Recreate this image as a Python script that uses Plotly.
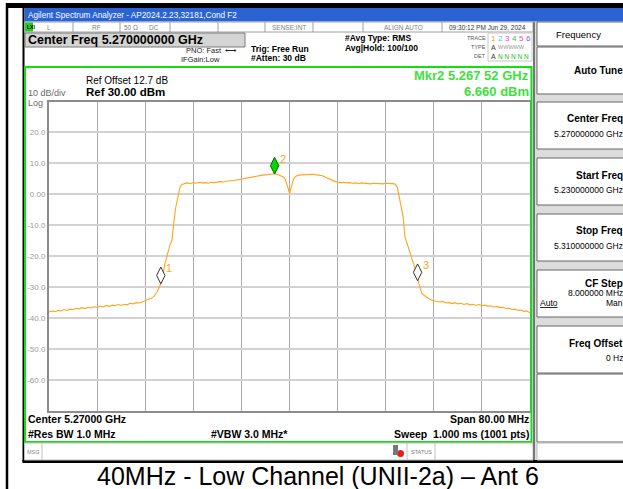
import plotly.graph_objects as go

# ---- data ----
trace_freq_mhz = [
    5230.0, 5230.5, 5231.0, 5231.5, 5232.0, 5232.5, 5233.0, 5233.5, 5234.0, 5234.5,
    5235.0, 5235.5, 5236.0, 5236.5, 5237.0, 5237.5, 5238.0, 5238.5, 5239.0, 5239.5,
    5240.0, 5240.5, 5241.0, 5241.5, 5242.0, 5242.5, 5243.0, 5243.5, 5244.0, 5244.5,
    5245.0, 5245.5, 5246.0, 5246.5, 5247.0, 5247.5, 5248.0, 5248.5, 5249.0, 5249.3,
    5249.8, 5250.1, 5250.45, 5250.6, 5250.8, 5251.1, 5251.45, 5251.8, 5252.1, 5252.5,
    5253.0, 5253.5, 5254.0, 5254.5, 5255.0, 5255.5, 5256.0, 5256.5, 5257.0, 5257.5,
    5258.0, 5258.5, 5259.0, 5259.5, 5260.0, 5260.5, 5261.0, 5261.5, 5262.0, 5262.5,
    5263.0, 5263.5, 5264.0, 5264.5, 5265.0, 5265.5, 5266.0, 5266.5, 5267.0, 5267.5,
    5268.0, 5268.5, 5269.0, 5269.3, 5269.6, 5269.8, 5270.0, 5270.2, 5270.4, 5270.7,
    5271.0, 5271.5, 5272.0, 5272.5, 5273.0, 5273.5, 5274.0, 5274.5, 5275.0, 5275.5,
    5276.0, 5276.5, 5277.0, 5277.5, 5278.0, 5278.5, 5279.0, 5279.5, 5280.0, 5280.5,
    5281.0, 5281.5, 5282.0, 5282.5, 5283.0, 5283.5, 5284.0, 5284.5, 5285.0, 5285.5,
    5286.0, 5286.5, 5287.0, 5287.5, 5287.9, 5288.4, 5288.9, 5289.2, 5289.7, 5290.2,
    5290.7, 5291.1, 5291.5, 5292.0, 5292.7, 5293.3, 5293.9, 5294.5, 5295.0, 5295.5,
    5296.0, 5296.5, 5297.0, 5297.5, 5298.0, 5298.5, 5299.0, 5299.5, 5300.0, 5300.5,
    5301.0, 5301.5, 5302.0, 5302.5, 5303.0, 5303.5, 5304.0, 5304.5, 5305.0, 5305.5,
    5306.0, 5306.5, 5307.0, 5307.5, 5308.0, 5308.5, 5309.0, 5309.5, 5310.0,
]
trace_dbm = [
    -38.0, -37.7, -37.9, -37.5, -37.7, -37.2, -37.5, -37.1, -37.3, -36.8,
    -37.0, -36.6, -36.9, -36.5, -36.7, -36.3, -36.5, -36.1, -36.4, -35.9,
    -36.2, -35.8, -36.0, -35.6, -35.9, -35.5, -35.7, -35.2, -35.4, -35.0,
    -35.1, -34.7, -34.4, -34.0, -33.6, -32.9, -31.4, -29.3, -25.5, -22.2,
    -18.0, -16.5, -14.7, -11.5, -8.3, -4.0, -0.2, 2.4, 3.2, 3.5,
    3.7, 3.5, 3.8, 3.6, 3.9, 3.7, 3.8, 3.6, 3.9, 3.8,
    4.0, 4.1, 4.0, 4.3, 4.4, 4.4, 4.6, 4.7, 4.9, 5.2,
    5.4, 5.5, 5.8, 5.9, 6.1, 6.2, 6.3, 6.4, 6.5, 6.66,
    6.4, 6.1, 5.6, 4.8, 3.3, 1.8, 0.2, 1.8, 3.6, 5.1,
    5.8, 6.2, 6.3, 6.4, 6.5, 6.4, 6.5, 6.3, 6.2, 6.0,
    5.5, 5.0, 4.6, 4.2, 4.0, 3.8, 3.9, 3.7, 3.8, 3.6,
    3.7, 3.5, 3.7, 3.6, 3.6, 3.4, 3.6, 3.5, 3.6, 3.4,
    3.6, 3.5, 3.5, 3.4, 2.5, -1.8, -7.2, -13.7, -16.9, -20.1,
    -23.4, -25.3, -28.7, -32.0, -33.1, -33.9, -34.4, -34.5, -34.8, -34.6,
    -35.1, -34.9, -35.3, -35.0, -35.4, -35.2, -35.6, -35.3, -35.7, -35.5,
    -35.9, -35.6, -36.0, -35.8, -36.1, -36.0, -36.4, -36.2, -36.6, -36.5,
    -36.9, -36.8, -37.2, -37.1, -37.5, -37.4, -37.8, -37.7, -38.3,
]

marker_names = ['1', '2', '3']
marker_freq_mhz = [5248.6, 5267.52, 5291.3]
marker_dbm = [-28.8, 6.66, -27.8]

y_tick_vals = [20, 10, 0, -10, -20, -30, -40, -50, -60]
y_tick_text = ['20.0', '10.0', '0.00', '-10.0', '-20.0', '-30.0', '-40.0', '-50.0', '-60.0']

softkeys = [
    ('Center Freq', '5.270000000 GHz'),
    ('Start Freq', '5.230000000 GHz'),
    ('Stop Freq', '5.310000000 GHz'),
    ('CF Step', '8.000000 MHz'),
    ('Freq Offset', '0 Hz'),
]

# ---- layout helpers (pixel -> paper) ----
W, H = 623, 489
FONT = 'Liberation Sans, Arial, sans-serif'
shapes = []
annotations = []


def px(x):
    return x / W


def py(y):
    return 1 - y / H


def rect(x0, y0, x1, y1, fill=None, line=None, lw=1):
    shapes.append(dict(
        type='rect', xref='paper', yref='paper',
        x0=px(x0), x1=px(x1), y0=py(y1), y1=py(y0),
        fillcolor=fill or 'rgba(0,0,0,0)',
        line=dict(color=line or 'rgba(0,0,0,0)', width=lw if line else 0),
    ))


def vline(x, y0, y1, color, lw=1):
    shapes.append(dict(type='line', xref='paper', yref='paper',
                       x0=px(x), x1=px(x), y0=py(y0), y1=py(y1),
                       line=dict(color=color, width=lw)))


def text(x, y, s, size=9, color='black', bold=False, anchor='left'):
    annotations.append(dict(
        xref='paper', yref='paper', x=px(x), y=py(y),
        text='<b>%s</b>' % s if bold else s, showarrow=False,
        xanchor=anchor, yanchor='middle', borderpad=0,
        font=dict(size=size, color=color, family=FONT)))


# outer frame + screenshot edges
rect(7, 3, 623, 8, fill='black')
vline(7, 3, 489, 'black', 2.5)
rect(22.5, 8, 24.5, 462, fill='black')
rect(22.5, 460, 623, 463, fill='black')

# title bar
rect(24.5, 8, 623, 21.5, fill='#2a63d4')
text(27, 15, 'Agilent Spectrum Analyzer - AP2024.2.23,32181,Cond F2', size=8.2, color='white')

# status row
rect(24.5, 22, 533, 32, fill='white', line='#a0a0a0')
rect(25, 22.5, 33, 31.5, fill='#22cc22')
text(26, 27, 'LXI', size=5, color='black', bold=True)
for xd in [73, 120, 170, 218, 265, 313, 363, 442]:
    vline(xd, 22, 32, '#a0a0a0')
for xs, s in [(49, 'L'), (96, 'RF'), (131, '50 Ω'), (154, 'DC'), (289, 'SENSE:INT'), (403, 'ALIGN AUTO')]:
    text(xs, 27.2, s, size=6.5, color='#808080', anchor='center')
text(487, 27.2, '09:30:12 PM Jun 29, 2024', size=6.5, color='#333333', anchor='center')

# center freq box and acquisition info
rect(25, 33, 245, 47, fill='#d4d4d4', line='#7a7a7a')
text(27, 40.5, 'Center Freq 5.270000000 GHz', size=12.5, bold=True)
text(185, 51, 'PNO: Fast  ⟷', size=7.5, color='#222222')
text(180, 59, 'IFGain:Low', size=7.5, color='#222222')
text(250, 49, 'Trig: Free Run', size=8.5, bold=True)
text(250, 58, '#Atten: 30 dB', size=8.5, bold=True)
text(344, 38, '#Avg Type: RMS', size=8.5, bold=True)
text(344, 48, 'Avg|Hold: 100/100', size=8.5, bold=True)

# trace indicator block
rect(488, 33, 532, 61, line='#c8c8c8')
text(487, 38, 'TRACE', size=5.5, color='#555555', anchor='right')
text(487, 47, 'TYPE', size=5.5, color='#555555', anchor='right')
text(487, 56, 'DET', size=5.5, color='#555555', anchor='right')
trace_cols = ['#ff9900', '#33ccff', '#ff33ff', '#33cc33', '#ff4d88', '#7755ff']
for i, c in enumerate(trace_cols):
    text(493 + i * 7, 38, str(i + 1), size=8, color=c, anchor='center')
text(490, 47, 'A', size=7, color='#333333')
text(497, 47, 'WWWWW', size=5.5, color='#9a9a9a')
text(490, 56, 'A', size=7, color='#333333')
text(497, 56, 'N N N N N', size=6.5, color='#22bb22')

# measurement panel (green frame)
rect(25, 67, 531.5, 442, line='#10e010', lw=2)
text(85, 81, 'Ref Offset 12.7 dB', size=10)
text(85, 92, 'Ref 30.00 dBm', size=11.5, bold=True)
text(27, 93, '10 dB/div', size=9, color='#6a6a6a')
text(27, 103, 'Log', size=9, color='#6a6a6a')
text(530, 75, 'Mkr2 5.267 52 GHz', size=13, color='#40e040', bold=True, anchor='right')
text(530, 91, '6.660 dBm', size=13, color='#40e040', bold=True, anchor='right')

text(27, 419, 'Center 5.27000 GHz', size=10.5, bold=True)
text(27, 434, '#Res BW 1.0 MHz', size=10.5, bold=True)
text(210, 434, '#VBW 3.0 MHz*', size=10.5, bold=True)
text(530, 419, 'Span 80.00 MHz', size=10.5, bold=True, anchor='right')
text(530, 434, 'Sweep  1.000 ms (1001 pts)', size=10.5, bold=True, anchor='right')

# message bar
rect(24.5, 443, 533, 460, fill='white', line='#c0c0c0')
vline(42, 443, 460, '#c0c0c0')
text(26, 451.5, 'MSG', size=5.5, color='#888888')
vline(407, 443, 460, '#c0c0c0')
vline(435, 443, 460, '#c0c0c0')
shapes.append(dict(type='circle', xref='paper', yref='paper',
                   x0=px(397), x1=px(404), y0=py(457), y1=py(450),
                   fillcolor='#e02020', line=dict(width=0)))
rect(393, 445, 398, 455, fill='#777777')
text(421, 451.5, 'STATUS', size=5.5, color='#777777', anchor='center')

# right soft-key panel (cut off at the right edge like the screenshot)
rect(533, 22, 623, 460, fill='#dcdcdc')
vline(534, 22, 460, '#555555', 1.5)
rect(537, 22, 625, 46, fill='white', line='#666666')
text(578, 34, 'Frequency', size=9.5, anchor='center')
rect(537, 47, 625, 94, fill='white', line='#666666')
text(624, 71, 'Auto Tune', size=10, bold=True, anchor='right')
for i, (lab, val) in enumerate(softkeys):
    top = 102 + 56 * i
    rect(537, top, 625, top + 47, fill='white', line='#666666')
    if lab == 'CF Step':
        text(624, top + 13, lab, size=10, bold=True, anchor='right')
        text(624, top + 23, val, size=8.5, anchor='right')
        text(539, top + 33, '<u>Auto</u>', size=8.5)
        text(624, top + 33, 'Man', size=8.5, anchor='right')
    else:
        text(624, top + 17, lab, size=10, bold=True, anchor='right')
        text(624, top + 32, val, size=8.5, anchor='right')
rect(537, 374, 625, 442, fill='white', line='#666666')
rect(537, 443, 625, 460, fill='white', line='#c0c0c0')

# caption
text(318, 476, '40MHz - Low Channel (UNII-2a) – Ant 6', size=25, anchor='center')

# ---- traces ----
fig = go.Figure()
fig.add_trace(go.Scatter(
    x=trace_freq_mhz, y=trace_dbm, mode='lines',
    line=dict(color='#ffa41c', width=1.1), hoverinfo='skip'))

# marker diamonds sit with their lower tip on the trace point
diamond_half_db = 2.6
marker_fill = ['white', '#00d800', 'white']
marker_edge = ['#333333', '#006600', '#333333']
fig.add_trace(go.Scatter(
    x=marker_freq_mhz, y=[v + diamond_half_db for v in marker_dbm], mode='markers',
    marker=dict(symbol='diamond-tall', size=12, color=marker_fill,
                line=dict(color=marker_edge, width=1)),
    hoverinfo='skip'))
for name, f, v in zip(marker_names, marker_freq_mhz, marker_dbm):
    annotations.append(dict(
        x=f, y=v + diamond_half_db, xref='x', yref='y', text=name, showarrow=False,
        xshift=8, yshift=7, font=dict(size=11, color='#ffa41c', family=FONT)))

fig.update_layout(
    width=W, height=H, margin=dict(l=0, r=0, t=0, b=0),
    paper_bgcolor='white', plot_bgcolor='white', showlegend=False,
    shapes=shapes, annotations=annotations,
    xaxis=dict(domain=[px(49), px(530)], range=[5230, 5310], tick0=5230, dtick=8,
               showticklabels=False, ticks='', showgrid=True, gridcolor='#a9a9a9',
               gridwidth=1, zeroline=False, showline=True, linecolor='#8c8c8c',
               linewidth=2, mirror=True, fixedrange=True),
    yaxis=dict(domain=[py(411), py(101.5)], range=[-70, 30], tickvals=y_tick_vals,
               ticktext=y_tick_text, tickfont=dict(size=8, color='#9a9a9a', family=FONT),
               ticks='', showgrid=True, gridcolor='#d2d2d2', gridwidth=1.6,
               zeroline=False, showline=True, linecolor='#8c8c8c', linewidth=2,
               mirror=True, fixedrange=True),
)

# the page body has a default 8px margin; drop it so the figure fills the window
fig.write_html("out.html", config={'displayModeBar': False},
               post_script="document.body.style.margin = '0px';")
